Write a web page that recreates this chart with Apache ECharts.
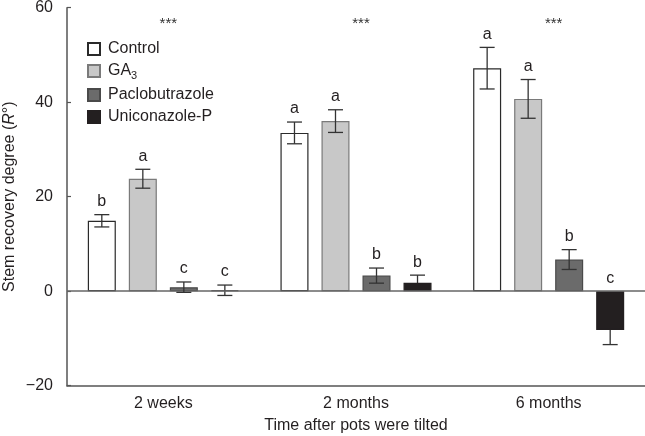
<!DOCTYPE html>
<html>
<head>
<meta charset="utf-8">
<script src="https://cdn.jsdelivr.net/npm/echarts@6/dist/echarts.min.js"></script>
<style>
html,body{margin:0;padding:0;background:#fff;}
#chart{width:645px;height:436px;}
</style>
</head>
<body>
<div id="chart"></div>
<script>
const categories = ['2 weeks', '2 months', '6 months'];
const seriesNames = ['Control', 'GA3', 'Paclobutrazole', 'Uniconazole-P'];
const controlValues = [14.9, 33.5, 47.2];
const ga3Values = [23.8, 36.0, 40.7];
const pacloValues = [0.85, 3.3, 6.7];
const uniconValues = [0.2, 1.8, -8.2];
const controlErr = [1.3, 2.3, 4.4];
const ga3Err = [2.0, 2.4, 4.1];
const pacloErr = [1.1, 1.6, 2.1];
const uniconErr = [1.1, 1.6, 3.1];
const controlLetters = ['b', 'a', 'a'];
const ga3Letters = ['a', 'a', 'a'];
const pacloLetters = ['c', 'b', 'b'];
const uniconLetters = ['c', 'b', 'c'];
const starLabels = ['***', '***', '***'];
const yTicks = [-20, 0, 20, 40, 60];

const FONT = 'Liberation Sans, Arial, Helvetica, sans-serif';
const TEXT = '#231f20';
const CAT_GAP = 0.216;
const BAR_GAP = 0.464;
const N = 4;

const fills = ['#ffffff', '#c8c8c8', '#6b6b6b', '#231f20'];
const borders = ['#2a2a2a', '#7a7a7a', '#4a4a4a', '#231f20'];
const allValues = [controlValues, ga3Values, pacloValues, uniconValues];
const allErr = [controlErr, ga3Err, pacloErr, uniconErr];
const allLetters = [controlLetters, ga3Letters, pacloLetters, uniconLetters];

const barSeries = seriesNames.map((name, i) => {
  const s = {
    type: 'bar',
    name: name,
    data: allValues[i],
    barGap: (BAR_GAP * 100) + '%',
    barCategoryGap: (CAT_GAP * 100) + '%',
    itemStyle: { color: fills[i], borderColor: borders[i], borderWidth: 1.2 },
    emphasis: { disabled: true },
    z: 2
  };
  if (i === 0) {
    s.markLine = {
      silent: true,
      symbol: 'none',
      label: { show: false },
      lineStyle: { color: '#666', width: 1.5, type: 'solid' },
      data: [{ yAxis: 0 }],
      z: 3
    };
  }
  return s;
});

function errSeries(idx) {
  const data = allValues[idx].map((v, c) => [c, v, allErr[idx][c]]);
  return {
    type: 'custom',
    silent: true,
    z: idx === 3 ? 1 : 5,
    data: data,
    renderItem: function (params, api) {
      const c = api.value(0), v = api.value(1), e = api.value(2);
      const band = api.size([1, 0])[0];
      const usable = band * (1 - CAT_GAP);
      const bw = usable / (N + (N - 1) * BAR_GAP);
      const cx = api.coord([c, 0])[0] - usable / 2 + bw / 2 + idx * bw * (1 + BAR_GAP);
      const yT = api.coord([c, v + e])[1];
      const yB = api.coord([c, v - e])[1];
      const yLetter = api.coord([c, Math.max(v + e, 0)])[1] - 5;
      const cap = 7.5;
      const ls = { stroke: '#333', lineWidth: 1.3 };
      return {
        type: 'group',
        children: [
          { type: 'line', shape: { x1: cx, y1: yT, x2: cx, y2: yB }, style: ls },
          { type: 'line', shape: { x1: cx - cap, y1: yT, x2: cx + cap, y2: yT }, style: ls },
          { type: 'line', shape: { x1: cx - cap, y1: yB, x2: cx + cap, y2: yB }, style: ls },
          { type: 'text', z2: 100, style: { text: allLetters[idx][c], x: cx, y: yLetter, textAlign: 'center', textVerticalAlign: 'bottom', font: '16px ' + FONT, fill: TEXT } }
        ]
      };
    }
  };
}

const starSeries = {
  type: 'custom',
  silent: true,
  z: 5,
  data: categories.map((c, i) => [i]),
  renderItem: function (params, api) {
    const c = api.value(0);
    const p = api.coord([c, 56.5]);
    return {
      type: 'text',
      style: { text: starLabels[c], x: p[0] + 5, y: p[1], textAlign: 'center', textVerticalAlign: 'middle', font: '15px ' + FONT, fill: '#333' }
    };
  }
};

const chart = echarts.init(document.getElementById('chart'), null, { renderer: 'canvas' });
chart.setOption({
  animation: false,
  backgroundColor: '#fff',
  textStyle: { fontFamily: FONT },
  grid: { left: 67, right: 0, top: 7.7, bottom: 50.3, containLabel: false, outerBoundsMode: 'none' },
  legend: {
    data: seriesNames,
    orient: 'vertical',
    left: 87,
    top: 41,
    padding: 0,
    itemWidth: 12,
    itemHeight: 12,
    itemGap: 6,
    icon: 'rect',
    selectedMode: false,
    formatter: function (name) {
      if (name === 'GA3') return '{n|GA}{s|3}';
      return '{n|' + name + '}';
    },
    textStyle: {
      color: TEXT,
      padding: [0, 0, 0, 3],
      rich: {
        n: { fontSize: 16, lineHeight: 20, fontFamily: FONT, color: TEXT },
        s: { fontSize: 11, lineHeight: 11, verticalAlign: 'bottom', fontFamily: FONT, color: TEXT }
      }
    }
  },
  xAxis: {
    type: 'category',
    data: categories,
    name: 'Time after pots were tilted',
    nameLocation: 'middle',
    nameGap: 32,
    nameMoveOverlap: false,
    nameTextStyle: { fontSize: 16, color: TEXT, fontFamily: FONT },
    axisLine: { onZero: false, lineStyle: { color: '#555', width: 1.5 } },
    axisTick: { show: false },
    axisLabel: { fontSize: 16, color: TEXT, margin: 10, fontFamily: FONT },
    splitLine: { show: false }
  },
  yAxis: {
    type: 'value',
    min: -20,
    max: 60,
    interval: 20,
    name: '{a|Stem recovery degree (}{i|R}{a|°)}',
    nameLocation: 'middle',
    nameGap: 49,
    nameMoveOverlap: false,
    nameRotate: 90,
    nameTextStyle: {
      rich: {
        a: { fontSize: 16, color: TEXT, fontFamily: FONT },
        i: { fontSize: 16, color: TEXT, fontFamily: FONT, fontStyle: 'italic' }
      }
    },
    axisLine: { show: true, lineStyle: { color: '#555', width: 1.5 } },
    axisTick: { show: true, inside: true, length: 4, lineStyle: { color: '#555', width: 1.2 } },
    axisLabel: {
      fontSize: 16, color: TEXT, margin: 14, fontFamily: FONT,
      formatter: function (v) { return yTicks.indexOf(v) >= 0 ? (v < 0 ? '\u2212' + Math.abs(v) : String(v)) : ''; }
    },
    splitLine: { show: false }
  },
  series: barSeries.concat([errSeries(0), errSeries(1), errSeries(2), errSeries(3), starSeries])
});
</script>
</body>
</html>
